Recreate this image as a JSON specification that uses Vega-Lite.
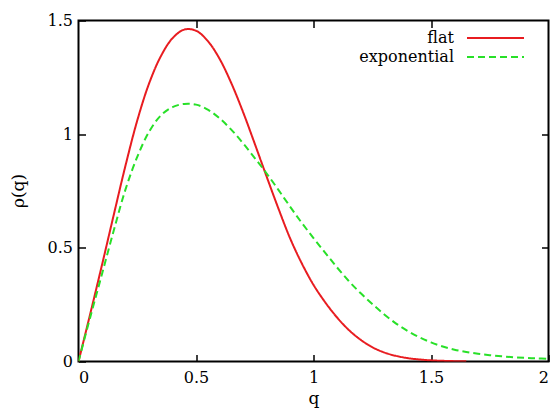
{
  "$schema": "https://vega.github.io/schema/vega-lite/v6.json",
  "width": 470,
  "height": 341,
  "autosize": {"type": "none"},
  "padding": {"left": 78.5, "top": 20.5, "right": 8.5, "bottom": 48.5},
  "background": "white",
  "config": {
    "view": {"stroke": "black", "strokeWidth": 2},
    "font": "DejaVu Serif",
    "axis": {
      "domain": false,
      "grid": false,
      "tickColor": "black",
      "tickWidth": 1.5,
      "tickSize": -7,
      "labelFont": "DejaVu Serif",
      "labelFontSize": 16,
      "labelColor": "black",
      "titleFont": "DejaVu Serif",
      "titleFontSize": 17,
      "titleFontWeight": "normal",
      "titleColor": "black"
    },
    "legend": {
      "labelFont": "DejaVu Serif"
    }
  },
  "data": {
    "values": [
      {"q": 0, "rho": 0, "series": "flat"},
      {"q": 0.05, "rho": 0.21, "series": "flat"},
      {"q": 0.1, "rho": 0.425, "series": "flat"},
      {"q": 0.15, "rho": 0.645, "series": "flat"},
      {"q": 0.2, "rho": 0.862, "series": "flat"},
      {"q": 0.25, "rho": 1.06, "series": "flat"},
      {"q": 0.3, "rho": 1.222, "series": "flat"},
      {"q": 0.35, "rho": 1.342, "series": "flat"},
      {"q": 0.4, "rho": 1.422, "series": "flat"},
      {"q": 0.45, "rho": 1.46, "series": "flat"},
      {"q": 0.5, "rho": 1.455, "series": "flat"},
      {"q": 0.55, "rho": 1.41, "series": "flat"},
      {"q": 0.6, "rho": 1.332, "series": "flat"},
      {"q": 0.65, "rho": 1.225, "series": "flat"},
      {"q": 0.7, "rho": 1.098, "series": "flat"},
      {"q": 0.75, "rho": 0.958, "series": "flat"},
      {"q": 0.8, "rho": 0.815, "series": "flat"},
      {"q": 0.85, "rho": 0.675, "series": "flat"},
      {"q": 0.9, "rho": 0.543, "series": "flat"},
      {"q": 0.95, "rho": 0.432, "series": "flat"},
      {"q": 1.0, "rho": 0.337, "series": "flat"},
      {"q": 1.05, "rho": 0.26, "series": "flat"},
      {"q": 1.1, "rho": 0.194, "series": "flat"},
      {"q": 1.15, "rho": 0.139, "series": "flat"},
      {"q": 1.2, "rho": 0.096, "series": "flat"},
      {"q": 1.25, "rho": 0.063, "series": "flat"},
      {"q": 1.3, "rho": 0.04, "series": "flat"},
      {"q": 1.35, "rho": 0.025, "series": "flat"},
      {"q": 1.4, "rho": 0.015, "series": "flat"},
      {"q": 1.45, "rho": 0.009, "series": "flat"},
      {"q": 1.5, "rho": 0.005, "series": "flat"},
      {"q": 1.55, "rho": 0.003, "series": "flat"},
      {"q": 1.6, "rho": 0.0015, "series": "flat"},
      {"q": 1.65, "rho": 0.0008, "series": "flat"},
      {"q": 0, "rho": 0, "series": "exponential"},
      {"q": 0.05, "rho": 0.195, "series": "exponential"},
      {"q": 0.1, "rho": 0.385, "series": "exponential"},
      {"q": 0.15, "rho": 0.576, "series": "exponential"},
      {"q": 0.2, "rho": 0.757, "series": "exponential"},
      {"q": 0.25, "rho": 0.9, "series": "exponential"},
      {"q": 0.3, "rho": 1.01, "series": "exponential"},
      {"q": 0.35, "rho": 1.082, "series": "exponential"},
      {"q": 0.4, "rho": 1.119, "series": "exponential"},
      {"q": 0.45, "rho": 1.133, "series": "exponential"},
      {"q": 0.5, "rho": 1.13, "series": "exponential"},
      {"q": 0.55, "rho": 1.108, "series": "exponential"},
      {"q": 0.6, "rho": 1.07, "series": "exponential"},
      {"q": 0.65, "rho": 1.02, "series": "exponential"},
      {"q": 0.7, "rho": 0.96, "series": "exponential"},
      {"q": 0.75, "rho": 0.895, "series": "exponential"},
      {"q": 0.8, "rho": 0.828, "series": "exponential"},
      {"q": 0.85, "rho": 0.756, "series": "exponential"},
      {"q": 0.9, "rho": 0.682, "series": "exponential"},
      {"q": 0.95, "rho": 0.61, "series": "exponential"},
      {"q": 1.0, "rho": 0.543, "series": "exponential"},
      {"q": 1.05, "rho": 0.478, "series": "exponential"},
      {"q": 1.1, "rho": 0.414, "series": "exponential"},
      {"q": 1.15, "rho": 0.354, "series": "exponential"},
      {"q": 1.2, "rho": 0.301, "series": "exponential"},
      {"q": 1.25, "rho": 0.253, "series": "exponential"},
      {"q": 1.3, "rho": 0.208, "series": "exponential"},
      {"q": 1.35, "rho": 0.168, "series": "exponential"},
      {"q": 1.4, "rho": 0.135, "series": "exponential"},
      {"q": 1.45, "rho": 0.107, "series": "exponential"},
      {"q": 1.5, "rho": 0.084, "series": "exponential"},
      {"q": 1.55, "rho": 0.066, "series": "exponential"},
      {"q": 1.6, "rho": 0.052, "series": "exponential"},
      {"q": 1.65, "rho": 0.042, "series": "exponential"},
      {"q": 1.7, "rho": 0.034, "series": "exponential"},
      {"q": 1.75, "rho": 0.028, "series": "exponential"},
      {"q": 1.8, "rho": 0.023, "series": "exponential"},
      {"q": 1.85, "rho": 0.019, "series": "exponential"},
      {"q": 1.9, "rho": 0.016, "series": "exponential"},
      {"q": 1.95, "rho": 0.014, "series": "exponential"},
      {"q": 2.0, "rho": 0.012, "series": "exponential"}
    ]
  },
  "layer": [
    {
      "mark": {"type": "line", "strokeWidth": 2, "interpolate": "catmull-rom", "clip": true},
      "encoding": {
        "x": {
          "field": "q", "type": "quantitative",
          "scale": {"domain": [0, 2], "nice": false, "zero": false},
          "axis": {"orient": "bottom", "values": [0, 0.5, 1, 1.5, 2], "format": "~g", "labelPadding": 28, "labelBaseline": "alphabetic", "title": "q", "titleY": 42, "titleBaseline": "alphabetic"}
        },
        "y": {
          "field": "rho", "type": "quantitative",
          "scale": {"domain": [0, 1.5], "nice": false},
          "axis": {"orient": "left", "values": [0, 0.5, 1, 1.5], "format": "~g", "labelPadding": 13, "title": "ρ(q)", "titleX": -55, "titleY": 170, "titleAngle": -90, "titleAlign": "center", "titleBaseline": "alphabetic"}
        },
        "color": {
          "field": "series", "type": "nominal",
          "scale": {"domain": ["flat", "exponential"], "range": ["#e81c20", "#28e028"]},
          "legend": {"orient": "none", "legendX": 406.5, "legendY": 7, "title": null, "padding": 0, "labelFontSize": 16, "labelColor": "black", "labelAlign": "right", "labelOffset": -52, "symbolType": "M-3,0H3", "symbolSize": 361, "symbolStrokeWidth": 2, "rowPadding": 0}
        },
        "strokeDash": {
          "field": "series", "type": "nominal",
          "scale": {"domain": ["flat", "exponential"], "range": [[1, 0], [7, 4]]},
          "legend": {"orient": "none", "legendX": 406.5, "legendY": 7, "title": null, "padding": 0, "labelFontSize": 16, "labelColor": "black", "labelAlign": "right", "labelOffset": -52, "symbolType": "M-3,0H3", "symbolSize": 361, "symbolStrokeWidth": 2, "rowPadding": 0}
        }
      }
    },
    {
      "mark": {"type": "line", "strokeOpacity": 0},
      "encoding": {
        "x": {"field": "q", "type": "quantitative", "axis": {"orient": "top", "values": [0.5, 1, 1.5], "labels": false, "title": null}},
        "y": {"field": "rho", "type": "quantitative", "axis": {"orient": "right", "values": [0.5, 1], "labels": false, "title": null}},
        "detail": {"field": "series"}
      }
    }
  ],
  "resolve": {"axis": {"x": "independent", "y": "independent"}}
}
